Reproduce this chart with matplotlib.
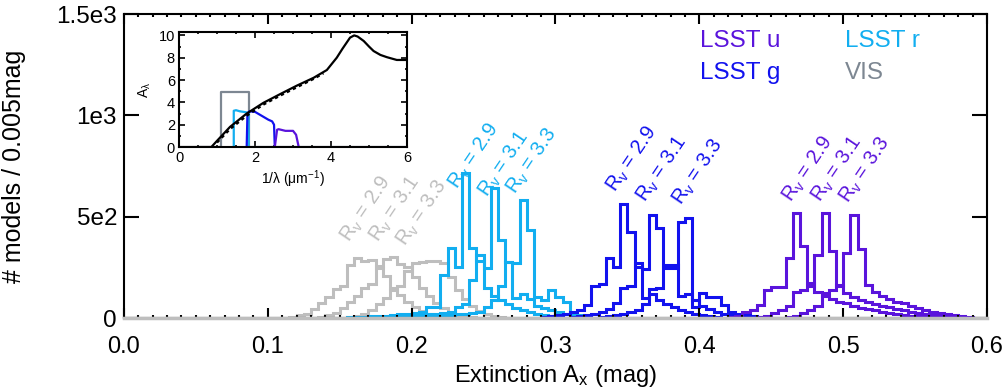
import numpy as np
import matplotlib.pyplot as plt
from matplotlib.ticker import MultipleLocator

plt.rcParams['font.family'] = ['Liberation Sans', 'DejaVu Sans']
plt.rcParams['mathtext.fontset'] = 'custom'
plt.rcParams['mathtext.rm'] = 'Liberation Sans'
plt.rcParams['mathtext.it'] = 'Liberation Sans:italic'

# ============================================================
# DATA  (counts per 0.005 mag bin)
# ============================================================

BIN = 0.005
rv_names = ['2.9', '3.1', '3.3']

# VIS
vis_start = [0.115, 0.135, 0.155]
vis_29 = [5, 15, 20, 45, 75, 105, 145, 160, 260, 295, 280, 285, 245, 205, 150, 115, 80, 55, 35, 20, 10, 5]
vis_31 = [5, 15, 25, 50, 80, 110, 150, 170, 255, 290, 300, 265, 250, 200, 150, 110, 75, 50, 30, 15, 10, 5]
vis_33 = [5, 10, 20, 40, 70, 100, 140, 160, 230, 270, 275, 280, 280, 270, 200, 140, 95, 60, 35, 20, 10, 5]

# LSST r
r_start = [0.155, 0.175, 0.195]
r_29 = [3, 5, 5, 8, 10, 12, 15, 18, 22, 26, 31, 56, 56, 212, 345, 253, 715, 345, 280, 150,
        110, 90, 70, 50, 40, 30, 20, 15, 10, 5]
r_31 = [3, 5, 5, 8, 10, 12, 15, 18, 22, 26, 31, 56, 70, 190, 311, 245, 640, 385, 278, 100,
        120, 95, 60, 50, 40, 30, 20, 15, 10, 5]
r_33 = [3, 5, 5, 8, 10, 12, 15, 18, 22, 26, 31, 56, 90, 160, 278, 271, 582, 434, 105, 89,
        138, 105, 80, 31, 15, 8]

# LSST g
g_start = [0.290, 0.310, 0.330]
g_29 = [5, 10, 15, 20, 30, 40, 64, 159, 168, 297, 253, 562, 426, 253, 100, 120, 90, 70, 55,
        40, 30, 20, 15, 10, 5]
g_31 = [5, 10, 15, 20, 30, 45, 75, 150, 160, 270, 240, 507, 446, 261, 261, 110, 120, 90, 60,
        45, 30, 20, 15, 10, 5]
g_33 = [5, 10, 15, 20, 30, 40, 70, 145, 150, 247, 247, 475, 492, 56, 123, 105, 105, 64, 31,
        20, 15, 10, 5]

# LSST u
u_start = [0.420, 0.440, 0.460]
u_29 = [5, 10, 30, 40, 64, 138, 153, 153, 295, 519, 355, 172, 130, 110, 95, 80, 75, 60, 50,
        45, 40, 30, 25, 20, 15, 10, 8, 5]
u_31 = [5, 10, 25, 40, 60, 130, 140, 160, 311, 519, 330, 160, 125, 105, 90, 80, 70, 60, 55,
        45, 40, 30, 25, 20, 15, 10, 8, 5]
u_33 = [5, 10, 25, 40, 60, 125, 140, 165, 319, 508, 340, 165, 130, 110, 95, 80, 75, 60, 50,
        40, 30, 25, 20, 15, 10, 5]

# R_V label anchors (x in mag, y in counts)
vis_lab_x = [0.157, 0.177, 0.196]
vis_lab_y = [370, 370, 350]
r_lab_x = [0.232, 0.253, 0.272]
r_lab_y = [630, 592, 607]
g_lab_x = [0.342, 0.3625, 0.3876]
g_lab_y = [619, 567, 553]
u_lab_x = [0.464, 0.484, 0.504]
u_lab_y = [567, 567, 562]

# inset: extinction curve A_lambda vs 1/lambda
ext_x = [0.0, 0.85, 1.0, 1.34, 1.78, 2.22, 2.66, 3.1, 3.54, 3.89, 4.15, 4.3, 4.42, 4.5,
         4.61, 4.7, 4.86, 5.0, 5.12, 5.3, 5.47, 5.73, 6.0]
ext_y = [0.0, 0.0, 0.56, 1.8, 3.0, 3.96, 4.74, 5.5, 6.2, 6.9, 8.0, 8.8, 9.4, 9.8,
         10.0, 9.9, 9.5, 9.0, 8.6, 8.25, 8.05, 7.8, 7.8]
ext2_x = [1.0, 1.34, 1.78, 2.22, 2.66, 3.1, 3.54, 3.8]
ext2_y = [0.4, 1.6, 2.8, 3.8, 4.6, 5.35, 6.1, 6.6]

vis_fx = [0.5, 1.1, 1.1, 1.83, 1.83, 6.0]
vis_fy = [0, 0, 4.9, 4.9, 0, 0]
r_fx = [1.44, 1.44, 1.5, 1.6, 1.7, 1.78, 1.83, 1.83]
r_fy = [0, 3.25, 3.3, 3.2, 3.15, 3.1, 3.0, 0]
g_fx = [1.78, 1.8, 1.85, 2.0, 2.2, 2.35, 2.45, 2.5, 2.52]
g_fy = [0, 3.0, 3.2, 3.15, 2.75, 2.45, 2.3, 2.0, 0]
u_fx = [2.52, 2.58, 2.62, 2.8, 3.0, 3.08, 3.15]
u_fy = [0, 1.55, 1.6, 1.45, 1.45, 1.1, 0]

# ============================================================
# STYLE
# ============================================================

C_U = '#5A14DC'
C_G = '#1212EE'
C_R = '#12AEF0'
C_VIS = '#BEBEBE'
C_VIS_TXT = '#7D8792'
C_VIS_BOX = '#7D8792'

fig = plt.figure(figsize=(10.07, 3.89), dpi=100)
ax = fig.add_axes([0.1231, 0.1825, 0.8570, 0.7815])

bands = [
    (vis_start, [vis_29, vis_31, vis_33], C_VIS, vis_lab_x, vis_lab_y),
    (r_start, [r_29, r_31, r_33], C_R, r_lab_x, r_lab_y),
    (g_start, [g_29, g_31, g_33], C_G, g_lab_x, g_lab_y),
    (u_start, [u_29, u_31, u_33], C_U, u_lab_x, u_lab_y),
]

for starts, hists, col, lx, ly in bands:
    for s, h in zip(starts, hists):
        edges = s + BIN * np.arange(len(h) + 1)
        ax.stairs(h, edges, color=col, lw=2.2)
    for x, y, name in zip(lx, ly, rv_names):
        ax.text(x, y, r'R$_\mathregular{v}$ = ' + name, rotation=56,
                rotation_mode='anchor', ha='left', va='baseline',
                color=col, fontsize=14.5)

ax.axhline(0, color=C_VIS, lw=2.5, zorder=5, clip_on=False)

ax.set_xlim(0, 0.6)
ax.set_ylim(0, 1500)
ax.set_xticks([0.0, 0.1, 0.2, 0.3, 0.4, 0.5, 0.6])
ax.set_xticklabels(['0.0', '0.1', '0.2', '0.3', '0.4', '0.5', '0.6'], fontsize=17)
ax.xaxis.set_minor_locator(MultipleLocator(0.01))
ax.set_yticks([0, 500, 1000, 1500])
ax.set_yticklabels(['0', '5e2', '1e3', '1.5e3'], fontsize=17.5)

ax.tick_params(which='both', direction='in', top=True, right=True, width=1.5)
ax.tick_params(axis='x', which='major', length=7, pad=13)
ax.tick_params(axis='x', which='minor', length=2.5)
ax.tick_params(axis='y', which='major', length=11, pad=5)
for sp in ax.spines.values():
    sp.set_linewidth(1.5)

ax.set_xlabel(r'Extinction A$_\mathregular{x}$ (mag)', fontsize=17)
ax.xaxis.set_label_coords(0.5, -0.148)
ax.set_ylabel('# models / 0.005mag', fontsize=18)
ax.yaxis.set_label_coords(-0.113, 0.5)

# legend text
ax.text(0.667, 0.912, 'LSST u', transform=ax.transAxes, color=C_U, fontsize=17.5, va='center')
ax.text(0.667, 0.805, 'LSST g', transform=ax.transAxes, color=C_G, fontsize=17.5, va='center')
ax.text(0.835, 0.912, 'LSST r', transform=ax.transAxes, color=C_R, fontsize=17.5, va='center')
ax.text(0.835, 0.805, 'VIS', transform=ax.transAxes, color=C_VIS_TXT, fontsize=17.5, va='center')

# ============================================================
# INSET
# ============================================================

axi = fig.add_axes([0.1778, 0.622, 0.2264, 0.2956])
axi.plot(vis_fx, vis_fy, color=C_VIS_BOX, lw=1.6)
axi.plot(r_fx, r_fy, color=C_R, lw=1.6)
axi.plot(g_fx, g_fy, color=C_G, lw=1.6)
axi.plot(u_fx, u_fy, color=C_U, lw=1.6)
axi.plot(ext2_x, ext2_y, color='k', lw=1.6, ls=(0, (1.5, 1.5)))
axi.plot(ext_x, ext_y, color='k', lw=1.6)
axi.set_xlim(0, 6)
axi.set_ylim(0, 10.3)
axi.set_xticks([0, 2, 4, 6])
axi.set_yticks([0, 2, 4, 6, 8, 10])
axi.xaxis.set_minor_locator(MultipleLocator(0.5))
axi.yaxis.set_minor_locator(MultipleLocator(1))
axi.tick_params(which='both', direction='in', top=True, right=True, labelsize=10.5, width=1.2)
axi.tick_params(which='major', length=4, pad=3)
axi.tick_params(which='minor', length=1.5)
for sp in axi.spines.values():
    sp.set_linewidth(1.5)
axi.set_xlabel(r'1/$\mathregular{\lambda}$ ($\mathregular{\mu m^{-1}}$)', fontsize=10, labelpad=2)
axi.set_ylabel(r'A$_\mathregular{\lambda}$', fontsize=10, labelpad=4)

fig.savefig('out.png', dpi=100)
